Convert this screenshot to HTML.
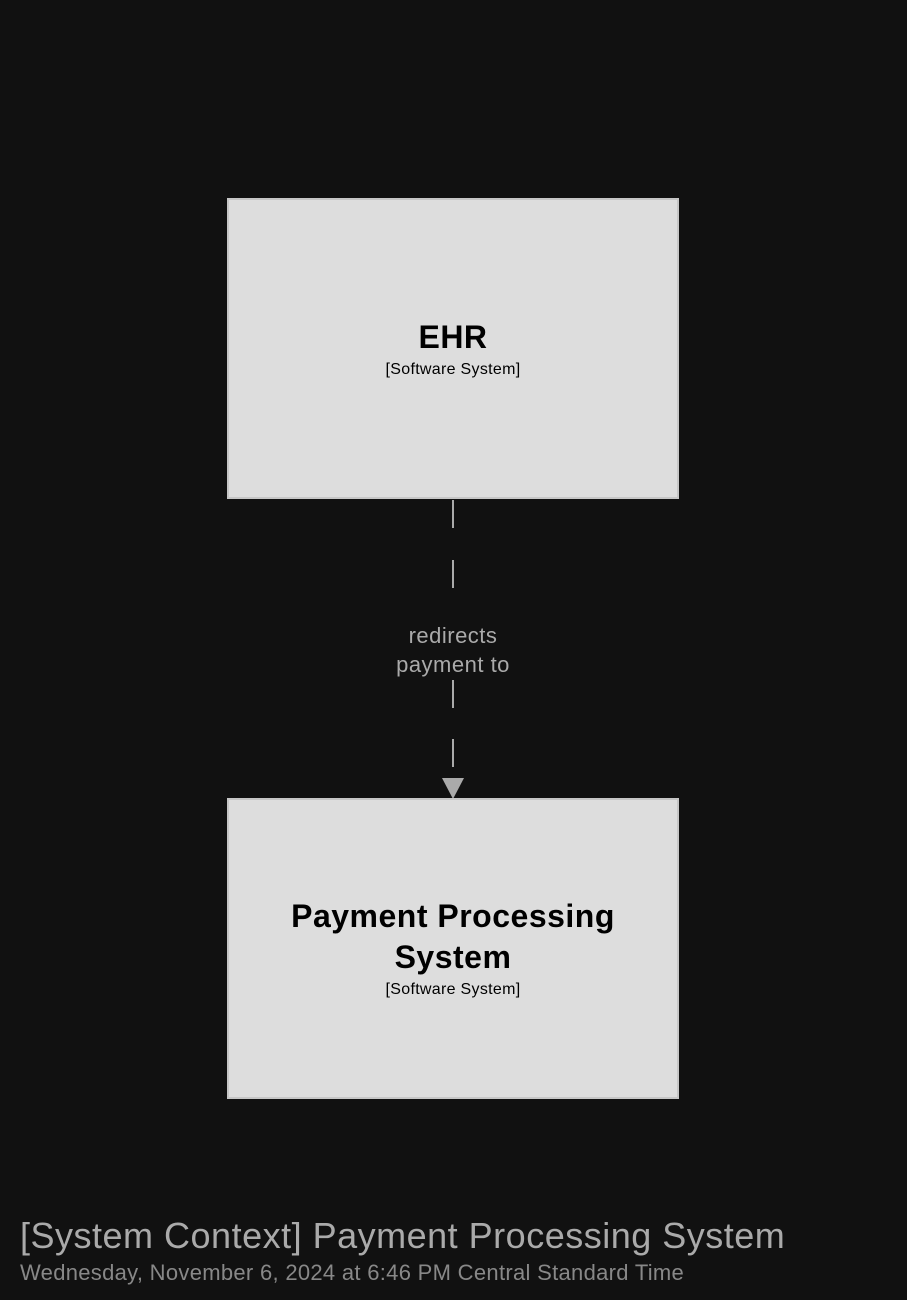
<!DOCTYPE html>
<html><head><style>
html,body{margin:0;padding:0;background:#111111;width:907px;height:1300px;overflow:hidden;font-family:"Liberation Sans",sans-serif;}
.box{position:absolute;left:227px;width:448px;height:297px;background:#dddddd;border:2px solid #c6c6c6;color:#000;text-align:center;}
.t{font-weight:bold;font-size:32px;line-height:41px;letter-spacing:0.5px;}
.s{font-size:16px;line-height:20px;letter-spacing:0.3px;}
.dash{position:absolute;left:452px;width:2px;height:28px;background:#aaaaaa;}
.lbl{position:absolute;left:353px;width:200px;text-align:center;color:#aaaaaa;font-size:22px;line-height:29px;top:621px;letter-spacing:0.5px;}
</style></head><body>
<div class="box" style="top:198px;"><div style="margin-top:117px" class="t">EHR</div><div class="s" style="margin-top:2px">[Software System]</div></div>
<div class="dash" style="top:500px"></div>
<div class="dash" style="top:560px"></div>
<div class="dash" style="top:680px"></div>
<div class="dash" style="top:739px"></div>
<div class="lbl">redirects<br>payment to</div>
<svg style="position:absolute;left:0;top:0" width="907" height="1300"><polygon points="442,778 464,778 453,799" fill="#aaaaaa"/></svg>
<div class="box" style="top:798px;"><div style="margin-top:96px" class="t">Payment Processing<br>System</div><div class="s" style="margin-top:2px">[Software System]</div></div>
<div style="position:absolute;left:20px;top:1214px;color:#aaaaaa;font-size:36px;line-height:44px;letter-spacing:0.5px;">[System Context] Payment Processing System</div>
<div style="position:absolute;left:20px;top:1259px;color:#888888;font-size:22px;line-height:28px;letter-spacing:0.3px;">Wednesday, November 6, 2024 at 6:46 PM Central Standard Time</div>
</body></html>
